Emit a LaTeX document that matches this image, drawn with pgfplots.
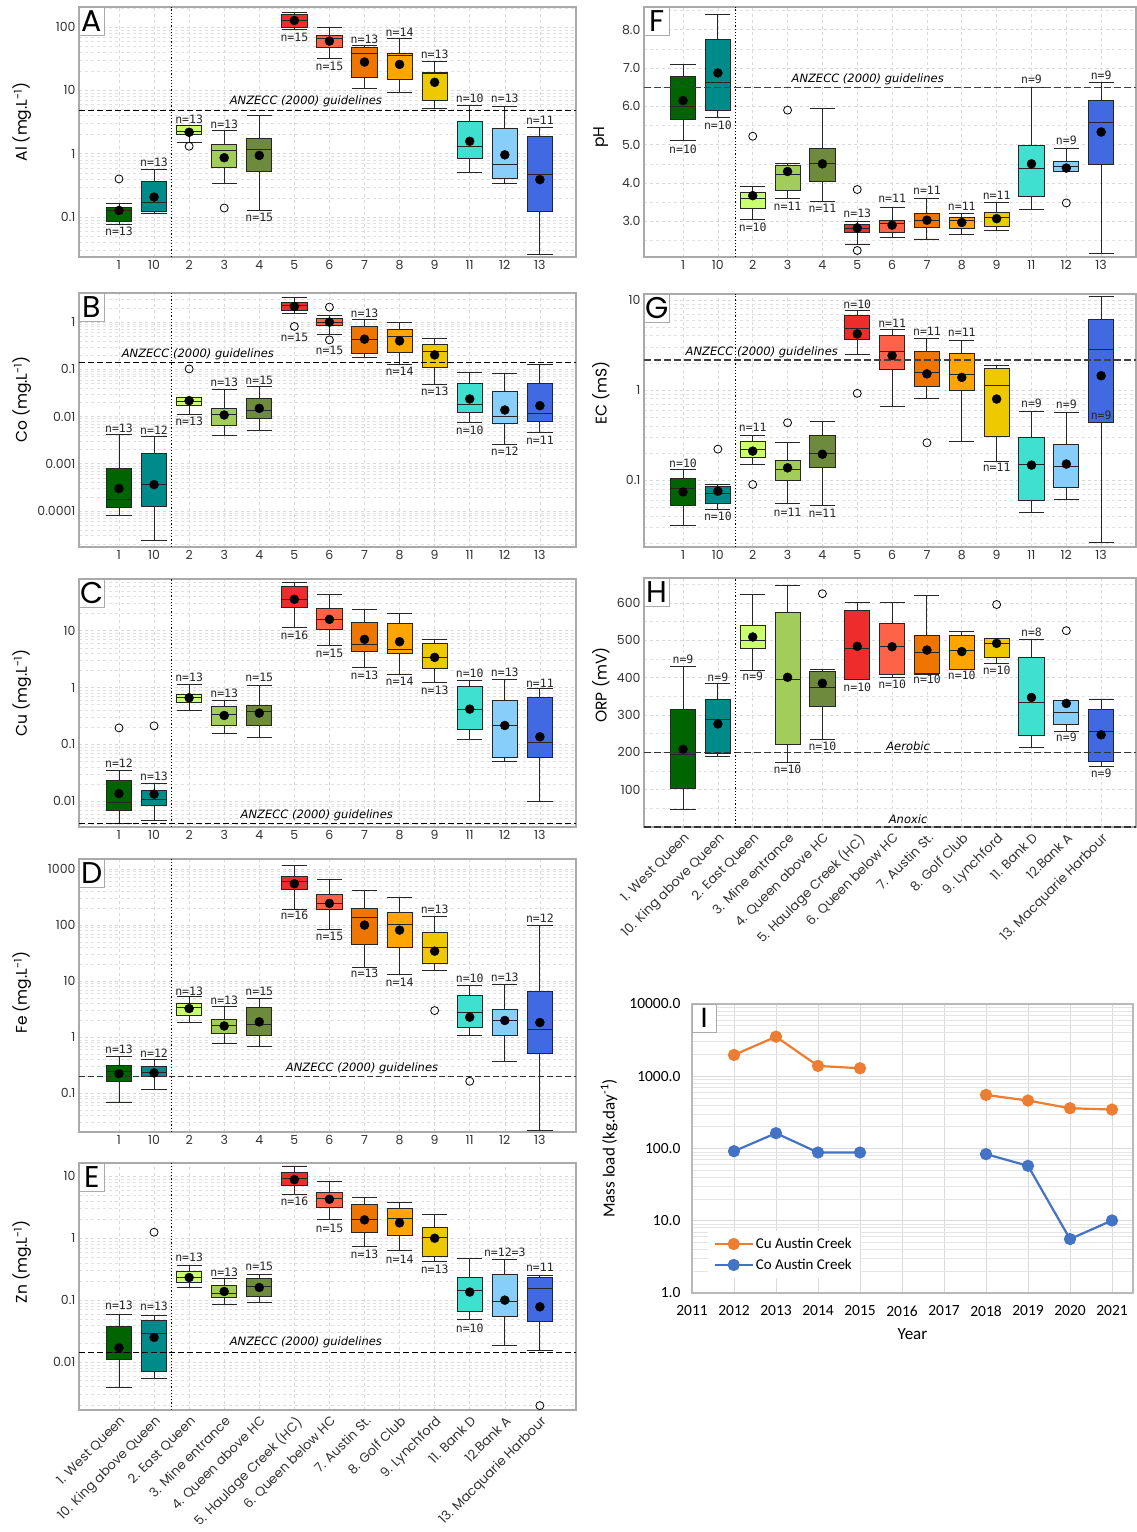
\documentclass[border=0pt]{standalone}
\usepackage{pgfplots}
\pgfplotsset{compat=1.18}
\usepgfplotslibrary{statistics}
\usepackage{fontspec}
\setmainfont{Poppins}
\newfontfamily\monof{DejaVu Sans Mono}
\newfontfamily\djv{DejaVu Sans}
\newfontfamily\calib{Carlito}

\definecolor{c1}{HTML}{006400}
\definecolor{c10}{HTML}{008B8B}
\definecolor{c2}{HTML}{CAFF70}
\definecolor{c3}{HTML}{A2CD5A}
\definecolor{c4}{HTML}{6E8B3D}
\definecolor{c5}{HTML}{EE2C2C}
\definecolor{c6}{HTML}{FF6347}
\definecolor{c7}{HTML}{EE7600}
\definecolor{c8}{HTML}{FFA500}
\definecolor{c9}{HTML}{EEC900}
\definecolor{c11}{HTML}{40E0D0}
\definecolor{c12}{HTML}{87CEFA}
\definecolor{c13}{HTML}{4169E1}
\definecolor{gridc}{HTML}{D9D9D9}
\definecolor{axc}{HTML}{AAAAAA}
\definecolor{cuC}{HTML}{ED7D31}
\definecolor{coC}{HTML}{4472C4}

\newcommand{\nfont}{\monof\fontsize{11.5}{12}\selectfont}
\newcommand{\gfont}{\djv\itshape\fontsize{11.5}{13}\selectfont}
% pos, lower whisker, lower quartile, median, upper quartile, upper whisker, colour, outliers
\newcommand{\bxp}[8]{\addplot[boxplot prepared={draw position=#1, lower whisker=#2, lower quartile=#3, median=#4, upper quartile=#5, upper whisker=#6}, fill=#7, draw=black!85, line width=0.9pt, mark=o, mark size=4pt, mark options={draw=black, fill=white, line width=0.8pt, solid}] coordinates {#8};}
\newcommand{\nlab}[3]{\node[font=\nfont, text=black!85] at (axis cs:#1,#2) {n=#3};}
\newcommand{\plab}[1]{\node[draw=axc, fill=white, inner sep=0pt, minimum width=25pt, minimum height=28pt, anchor=north west, font=\fontsize{30}{30}\selectfont] at (rel axis cs:0,1) {#1};}

\pgfplotsset{
  bpanel/.style={
    scale only axis, clip=false,
    xtick={0,...,12},
    major tick length=0pt, minor tick length=0pt,
    grid=both,
    major grid style={draw=gridc, dashed, line width=0.6pt},
    minor grid style={draw=gridc!80, dashed, line width=0.5pt},
    axis line style={draw=axc, line width=1.2pt},
    tick label style={font=\fontsize{12.5}{14}\selectfont, text=black!80},
    ylabel style={font=\fontsize{15.5}{17}\selectfont, anchor=center},
    boxplot/draw direction=y,
    boxplot/box extend=0.72,
    boxplot/whisker extend=0.72,
  },
  leftp/.style={bpanel, xmin=-1.14, xmax=13.03, width=497pt},
  rightp/.style={bpanel, xmin=-1.12, xmax=13.0, width=492pt},
  ylpL/.style={ylabel style={at={(axis description cs:-0.115,#1)}}},
  ylpR/.style={ylabel style={at={(axis description cs:-0.088,#1)}}},
  numlab/.style={xticklabels={1,10,2,3,4,5,6,7,8,9,11,12,13}},
  namelab/.style={xticklabels={1. West Queen, 10. King above Queen, 2. East Queen, 3. Mine entrance, 4. Queen above HC, 5. Haulage Creek (HC), 6. Queen below HC, 7. Austin St., 8. Golf Club, 9. Lynchford, 11. Bank D, 12.Bank A, 13. Macquarie Harbour},
    xticklabel style={rotate=45, anchor=north east, font=\fontsize{13}{15}\selectfont}},
}

\begin{document}
\begin{tikzpicture}
\useasboundingbox (0pt,0pt) rectangle (1137pt,-1532pt);

%%%%%%%%%%%%%%%% A: Al
\begin{axis}[leftp, numlab, ylpL=0.54, at={(79pt,-7pt)}, anchor=north west, height=250pt,
  ymode=log, ymin=0.0234, ymax=207,
  ytick={0.1,1,10,100}, yticklabels={0.1,1,10,100},
  minor ytick={0.03,0.04,0.05,0.06,0.07,0.08,0.09,0.2,0.3,0.4,0.5,0.6,0.7,0.8,0.9,2,3,4,5,6,7,8,9,20,30,40,50,60,70,80,90,200},
  ylabel={Al (mg.L\textsuperscript{-1})}]
\bxp{0}{0.077}{0.0855}{0.127}{0.144}{0.163}{c1}{(0,0.40)}
\bxp{1}{0.116}{0.123}{0.168}{0.37}{0.566}{c10}{}
\bxp{2}{1.49}{2.0}{2.25}{2.75}{2.80}{c2}{(2,1.31)}
\bxp{3}{0.344}{0.616}{1.13}{1.39}{2.33}{c3}{(3,0.139)}
\bxp{4}{0.127}{0.53}{1.17}{1.73}{4.03}{c4}{}
\bxp{5}{90.8}{100}{127}{157}{172}{c5}{}
\bxp{6}{31.6}{47.2}{65.4}{73.9}{97.6}{c6}{}
\bxp{7}{10.6}{16.2}{38.8}{47.2}{51.4}{c7}{}
\bxp{8}{9.2}{14.7}{35.7}{37.9}{65.4}{c8}{}
\bxp{9}{5.26}{6.95}{18.4}{19.0}{28.1}{c9}{}
\bxp{10}{0.51}{0.83}{1.31}{3.28}{5.8}{c11}{}
\bxp{11}{0.34}{0.40}{0.68}{2.48}{5.6}{c12}{}
\bxp{12}{0.0254}{0.123}{0.47}{1.90}{2.64}{c13}{}
\addplot[only marks, mark=*, mark size=4.5pt, black] coordinates {(0,0.127) (1,0.207) (2,2.18) (3,0.865) (4,0.94) (5,127) (6,60) (7,28) (8,25.7) (9,13.4) (10,1.57) (11,0.96) (12,0.39)};
\addplot[black, line width=1.1pt, dash pattern=on 6pt off 3pt] coordinates {(-1.14,4.83) (13.03,4.83)};
\addplot[black, line width=1.2pt, dotted] coordinates {(1.5,0.0234) (1.5,207)};
\node[font=\gfont] at (axis cs:5.33,6.7) {ANZECC (2000) guidelines};
\nlab{0}{0.0601}{13}\nlab{1}{0.721}{13}\nlab{2}{3.48}{13}\nlab{3}{2.90}{13}\nlab{4}{0.0977}{15}
\nlab{5}{68.7}{15}\nlab{6}{23.9}{15}\nlab{7}{64.7}{13}\nlab{8}{81.5}{14}\nlab{9}{36.6}{13}
\nlab{10}{7.48}{10}\nlab{11}{7.48}{13}\nlab{12}{3.32}{11}
\plab{A}
\end{axis}

%%%%%%%%%%%%%%%% B: Co
\begin{axis}[leftp, numlab, ylpL=0.58, at={(79pt,-293pt)}, anchor=north west, height=254pt,
  ymode=log, ymin=1.73e-5, ymax=4.13,
  ytick={0.0001,0.001,0.01,0.1,1}, yticklabels={0.0001,0.001,0.01,0.1,1},
  minor ytick={2e-5,3e-5,4e-5,5e-5,6e-5,7e-5,8e-5,9e-5,2e-4,3e-4,4e-4,5e-4,6e-4,7e-4,8e-4,9e-4,0.002,0.003,0.004,0.005,0.006,0.007,0.008,0.009,0.02,0.03,0.04,0.05,0.06,0.07,0.08,0.09,0.2,0.3,0.4,0.5,0.6,0.7,0.8,0.9,2,3,4},
  ylabel={Co (mg.L\textsuperscript{-1})}]
\bxp{0}{8.1e-5}{0.000118}{0.000175}{0.000794}{0.00426}{c1}{}
\bxp{1}{2.4e-5}{0.000126}{0.000363}{0.00166}{0.00374}{c10}{}
\bxp{2}{0.0111}{0.017}{0.0214}{0.0252}{0.026}{c2}{(2,0.102)}
\bxp{3}{0.00405}{0.0066}{0.0111}{0.0149}{0.0378}{c3}{}
\bxp{4}{0.00518}{0.00916}{0.0135}{0.0243}{0.0424}{c4}{}
\bxp{5}{1.55}{1.80}{2.26}{2.66}{3.34}{c5}{(5,0.81)}
\bxp{6}{0.538}{0.836}{1.0}{1.18}{1.39}{c6}{(6,2.08) (6,0.42)}
\bxp{7}{0.178}{0.22}{0.435}{0.81}{1.12}{c7}{}
\bxp{8}{0.128}{0.231}{0.489}{0.71}{1.0}{c8}{}
\bxp{9}{0.0483}{0.109}{0.238}{0.341}{0.457}{c9}{}
\bxp{10}{0.00741}{0.01228}{0.01845}{0.0507}{0.0868}{c11}{}
\bxp{11}{0.00261}{0.00717}{0.01026}{0.0337}{0.0813}{c12}{}
\bxp{12}{0.00462}{0.00804}{0.0117}{0.0491}{0.124}{c13}{}
\addplot[only marks, mark=*, mark size=4.5pt, black] coordinates {(0,0.000299) (1,0.000363) (2,0.0217) (3,0.0108) (4,0.0149) (5,2.15) (6,1.0) (7,0.435) (8,0.40) (9,0.202) (10,0.0236) (11,0.01377) (12,0.017)};
\addplot[black, line width=1.1pt, dash pattern=on 6pt off 3pt] coordinates {(-1.14,0.1415) (13.03,0.1415)};
\addplot[black, line width=1.2pt, dotted] coordinates {(1.5,1.73e-5) (1.5,4.13)};
\node[font=\gfont] at (axis cs:2.25,0.209) {ANZECC (2000) guidelines};
\nlab{0}{0.00562}{13}\nlab{1}{0.00518}{12}\nlab{2}{0.00778}{13}\nlab{3}{0.0524}{13}\nlab{4}{0.0577}{15}
\nlab{5}{0.481}{15}\nlab{6}{0.246}{15}\nlab{7}{1.50}{13}\nlab{8}{0.0897}{14}\nlab{9}{0.0337}{13}
\nlab{10}{0.00518}{10}\nlab{11}{0.00188}{12}\nlab{12}{0.00318}{11}
\plab{B}
\end{axis}

%%%%%%%%%%%%%%%% C: Cu
\begin{axis}[leftp, numlab, ylpL=0.54, at={(79pt,-579pt)}, anchor=north west, height=248pt,
  ymode=log, ymin=0.00352, ymax=81,
  ytick={0.01,0.1,1,10}, yticklabels={0.01,0.1,1,10},
  minor ytick={0.004,0.005,0.006,0.007,0.008,0.009,0.02,0.03,0.04,0.05,0.06,0.07,0.08,0.09,0.2,0.3,0.4,0.5,0.6,0.7,0.8,0.9,2,3,4,5,6,7,8,9,20,30,40,50,60,70,80},
  ylabel={Cu (mg.L\textsuperscript{-1})}]
\bxp{0}{0.00403}{0.00675}{0.00933}{0.0228}{0.0351}{c1}{(0,0.195)}
\bxp{1}{0.0045}{0.0085}{0.0107}{0.0156}{0.0205}{c10}{(1,0.212)}
\bxp{2}{0.39}{0.553}{0.66}{0.756}{1.135}{c2}{}
\bxp{3}{0.155}{0.212}{0.336}{0.465}{0.593}{c3}{}
\bxp{4}{0.130}{0.212}{0.385}{0.477}{1.09}{c4}{}
\bxp{5}{11.3}{25.8}{35.6}{59.6}{71}{c5}{}
\bxp{6}{5.45}{10.3}{16.05}{24.7}{42.5}{c6}{}
\bxp{7}{2.26}{4.27}{5.82}{14.0}{23.8}{c7}{}
\bxp{8}{1.73}{3.99}{4.75}{13.5}{19.7}{c8}{}
\bxp{9}{1.21}{2.17}{3.39}{5.98}{7.03}{c9}{}
\bxp{10}{0.124}{0.183}{0.417}{1.06}{1.33}{c11}{}
\bxp{11}{0.0499}{0.0595}{0.215}{0.585}{1.41}{c12}{}
\bxp{12}{0.01}{0.058}{0.106}{0.67}{0.964}{c13}{}
\addplot[only marks, mark=*, mark size=4.5pt, black] coordinates {(0,0.0136) (1,0.0133) (2,0.66) (3,0.322) (4,0.355) (5,35.6) (6,15.8) (7,7.03) (8,6.4) (9,3.39) (10,0.417) (11,0.215) (12,0.136)};
\addplot[black, line width=1.1pt, dash pattern=on 6pt off 3pt] coordinates {(-1.14,0.004) (13.03,0.004)};
\addplot[black, line width=1.2pt, dotted] coordinates {(1.5,0.00352) (1.5,81)};
\node[font=\gfont] at (axis cs:5.64,0.00566) {ANZECC (2000) guidelines};
\nlab{0}{0.046}{12}\nlab{1}{0.0275}{13}\nlab{2}{1.486}{13}\nlab{3}{0.787}{13}\nlab{4}{1.486}{15}
\nlab{5}{8.39}{16}\nlab{6}{3.99}{15}\nlab{7}{1.66}{13}\nlab{8}{1.265}{14}\nlab{9}{0.902}{13}
\nlab{10}{1.77}{10}\nlab{11}{1.84}{13}\nlab{12}{1.21}{11}
\plab{C}
\end{axis}

%%%%%%%%%%%%%%%% D: Fe
\begin{axis}[leftp, numlab, ylpL=0.51, at={(79pt,-859pt)}, anchor=north west, height=273pt,
  ymode=log, ymin=0.0204, ymax=1510,
  ytick={0.1,1,10,100,1000}, yticklabels={0.1,1,10,100,1000},
  minor ytick={0.03,0.04,0.05,0.06,0.07,0.08,0.09,0.2,0.3,0.4,0.5,0.6,0.7,0.8,0.9,2,3,4,5,6,7,8,9,20,30,40,50,60,70,80,90,200,300,400,500,600,700,800,900},
  ylabel={Fe (mg.L\textsuperscript{-1})}]
\bxp{0}{0.070}{0.164}{0.247}{0.308}{0.452}{c1}{}
\bxp{1}{0.118}{0.196}{0.234}{0.299}{0.399}{c10}{}
\bxp{2}{1.83}{2.47}{3.43}{3.99}{5.25}{c2}{}
\bxp{3}{0.76}{1.16}{1.61}{2.10}{3.53}{c3}{}
\bxp{4}{0.68}{1.09}{1.68}{3.39}{4.9}{c4}{}
\bxp{5}{193}{434}{611}{750}{1180}{c5}{}
\bxp{6}{82.6}{193}{244}{353}{662}{c6}{}
\bxp{7}{17.3}{45.2}{137}{199}{416}{c7}{}
\bxp{8}{13.2}{39.9}{101}{166}{316}{c8}{}
\bxp{9}{15.5}{20.6}{39.9}{73}{143}{c9}{(9,2.99)}
\bxp{10}{1.09}{1.47}{2.75}{5.47}{8.49}{c11}{(10,0.164)}
\bxp{11}{0.367}{1.06}{1.99}{3.12}{8.7}{c12}{}
\bxp{12}{0.0221}{0.51}{1.35}{6.45}{100}{c13}{}
\addplot[only marks, mark=*, mark size=4.5pt, black] coordinates {(0,0.224) (1,0.231) (2,3.25) (3,1.59) (4,1.88) (5,547) (6,244) (7,100) (8,81.5) (9,34.3) (10,2.28) (11,1.99) (12,1.83)};
\addplot[black!80, line width=1.1pt, dash pattern=on 6pt off 3pt] coordinates {(-1.14,0.196) (13.03,0.196)};
\addplot[black, line width=1.2pt, dotted] coordinates {(1.5,0.0204) (1.5,1510)};
\node[font=\gfont] at (axis cs:6.93,0.275) {ANZECC (2000) guidelines};
\nlab{0}{0.61}{13}\nlab{1}{0.51}{12}\nlab{2}{6.71}{13}\nlab{3}{4.52}{13}\nlab{4}{6.45}{15}
\nlab{5}{151}{16}\nlab{6}{63.7}{15}\nlab{7}{13.7}{13}\nlab{8}{9.6}{14}\nlab{9}{188}{13}
\nlab{10}{11.3}{10}\nlab{11}{11.6}{13}\nlab{12}{133}{12}
\plab{D}
\end{axis}

%%%%%%%%%%%%%%%% E: Zn
\begin{axis}[leftp, namelab, ylpL=0.60, at={(79pt,-1163pt)}, anchor=north west, height=247pt,
  ymode=log, ymin=0.00168, ymax=16.4,
  ytick={0.01,0.1,1,10}, yticklabels={0.01,0.1,1,10},
  minor ytick={0.002,0.003,0.004,0.005,0.006,0.007,0.008,0.009,0.02,0.03,0.04,0.05,0.06,0.07,0.08,0.09,0.2,0.3,0.4,0.5,0.6,0.7,0.8,0.9,2,3,4,5,6,7,8,9},
  ylabel={Zn (mg.L\textsuperscript{-1})}]
\bxp{0}{0.0039}{0.0112}{0.0143}{0.0372}{0.0587}{c1}{}
\bxp{1}{0.00552}{0.00698}{0.029}{0.0475}{0.0559}{c10}{(1,1.25)}
\bxp{2}{0.16}{0.193}{0.232}{0.286}{0.358}{c2}{}
\bxp{3}{0.0861}{0.110}{0.128}{0.175}{0.221}{c3}{}
\bxp{4}{0.0906}{0.113}{0.168}{0.224}{0.256}{c4}{}
\bxp{5}{5.13}{7.17}{9.4}{11.5}{14.7}{c5}{}
\bxp{6}{2.0}{3.13}{4.36}{5.59}{8.4}{c6}{}
\bxp{7}{0.724}{1.22}{2.0}{3.49}{4.53}{c7}{}
\bxp{8}{0.64}{1.09}{2.07}{3.01}{3.76}{c8}{}
\bxp{9}{0.415}{0.5}{1.03}{1.49}{2.41}{c9}{}
\bxp{10}{0.0488}{0.0657}{0.142}{0.232}{0.465}{c11}{}
\bxp{11}{0.0188}{0.0538}{0.094}{0.256}{0.453}{c12}{}
\bxp{12}{0.0152}{0.0448}{0.154}{0.229}{0.253}{c13}{(12,0.00198)}
\addplot[only marks, mark=*, mark size=4.5pt, black] coordinates {(0,0.017) (1,0.025) (2,0.232) (3,0.138) (4,0.16) (5,8.83) (6,4.26) (7,1.98) (8,1.77) (9,1.0) (10,0.135) (11,0.1) (12,0.078)};
\addplot[black, line width=1.1pt, dash pattern=on 6pt off 3pt] coordinates {(-1.14,0.01416) (13.03,0.01416)};
\addplot[black, line width=1.2pt, dotted] coordinates {(1.5,0.00168) (1.5,16.4)};
\node[font=\gfont] at (axis cs:5.33,0.0205) {ANZECC (2000) guidelines};
\nlab{0}{0.083}{13}\nlab{1}{0.08}{13}\nlab{2}{0.488}{13}\nlab{3}{0.286}{13}\nlab{4}{0.349}{15}
\nlab{5}{3.96}{16}\nlab{6}{1.43}{15}\nlab{7}{0.546}{13}\nlab{8}{0.458}{14}\nlab{9}{0.316}{13}
\nlab{10}{0.0349}{10}\nlab{11}{0.587}{12=3}\nlab{12}{0.345}{11}
\plab{E}
\end{axis}

%%%%%%%%%%%%%%%% F: pH
\begin{axis}[rightp, numlab, ylpR=0.48, at={(644pt,-7pt)}, anchor=north west, height=250pt,
  ymin=2.07, ymax=8.59,
  ytick={3,4,5,6,7,8}, yticklabels={3.0,4.0,5.0,6.0,7.0,8.0},
  minor ytick={2.5,3.5,4.5,5.5,6.5,7.5,8.5},
  ylabel={pH}]
\bxp{0}{5.10}{5.65}{6.0}{6.78}{7.10}{c1}{}
\bxp{1}{5.70}{5.89}{6.61}{7.74}{8.39}{c10}{}
\bxp{2}{3.04}{3.33}{3.61}{3.76}{3.90}{c2}{(2,5.22)}
\bxp{3}{3.59}{3.80}{4.22}{4.45}{4.50}{c3}{(3,5.90)}
\bxp{4}{3.52}{4.04}{4.50}{4.90}{5.94}{c4}{}
\bxp{5}{2.41}{2.70}{2.81}{2.93}{3.0}{c5}{(5,3.83) (5,2.24)}
\bxp{6}{2.57}{2.70}{2.94}{3.03}{3.37}{c6}{}
\bxp{7}{2.54}{2.84}{3.02}{3.20}{3.60}{c7}{}
\bxp{8}{2.65}{2.82}{3.02}{3.11}{3.20}{c8}{}
\bxp{9}{2.76}{2.87}{3.09}{3.23}{3.50}{c9}{}
\bxp{10}{3.32}{3.65}{4.37}{4.99}{6.50}{c11}{}
\bxp{11}{4.30}{4.30}{4.43}{4.57}{4.90}{c12}{(11,3.48)}
\bxp{12}{2.15}{4.48}{5.57}{6.16}{6.61}{c13}{}
\addplot[only marks, mark=*, mark size=4.5pt, black] coordinates {(0,6.15) (1,6.87) (2,3.67) (3,4.30) (4,4.50) (5,2.83) (6,2.90) (7,3.03) (8,2.97) (9,3.07) (10,4.50) (11,4.39) (12,5.33)};
\addplot[black!75, line width=1.3pt, dash pattern=on 7pt off 3pt] coordinates {(-1.12,6.49) (13.0,6.49)};
\addplot[black, line width=1.2pt, dotted] coordinates {(1.5,2.07) (1.5,8.59)};
\node[font=\gfont] at (axis cs:5.3,6.71) {ANZECC (2000) guidelines};
\nlab{0}{4.89}{10}\nlab{1}{5.51}{10}\nlab{2}{2.85}{10}\nlab{3}{3.39}{11}\nlab{4}{3.35}{11}
\nlab{5}{3.20}{13}\nlab{6}{3.60}{11}\nlab{7}{3.81}{11}\nlab{8}{3.39}{11}\nlab{9}{3.68}{11}
\nlab{10}{6.70}{9}\nlab{11}{5.11}{9}\nlab{12}{6.80}{9}
\plab{F}
\end{axis}

%%%%%%%%%%%%%%%% G: EC
\begin{axis}[rightp, numlab, ylpR=0.61, at={(644pt,-294pt)}, anchor=north west, height=253pt,
  ymode=log, ymin=0.01816, ymax=11.6,
  ytick={0.1,1,10}, yticklabels={0.1,1,10},
  minor ytick={0.02,0.03,0.04,0.05,0.06,0.07,0.08,0.09,0.2,0.3,0.4,0.5,0.6,0.7,0.8,0.9,2,3,4,5,6,7,8,9},
  ylabel={EC (mS)}]
\bxp{0}{0.0316}{0.0527}{0.0808}{0.1045}{0.131}{c1}{}
\bxp{1}{0.0472}{0.0551}{0.0711}{0.0858}{0.0903}{c10}{(1,0.221)}
\bxp{2}{0.151}{0.179}{0.221}{0.267}{0.311}{c2}{(2,0.0896)}
\bxp{3}{0.0546}{0.0984}{0.131}{0.164}{0.262}{c3}{(3,0.434)}
\bxp{4}{0.0527}{0.138}{0.198}{0.316}{0.445}{c4}{}
\bxp{5}{2.45}{3.66}{4.84}{6.70}{7.55}{c5}{(5,0.918)}
\bxp{6}{0.664}{1.70}{2.67}{3.98}{4.72}{c6}{}
\bxp{7}{0.807}{1.09}{1.57}{2.67}{3.75}{c7}{(7,0.26)}
\bxp{8}{0.271}{1.0}{1.49}{2.54}{3.53}{c8}{}
\bxp{9}{0.163}{0.308}{1.11}{1.74}{1.86}{c9}{}
\bxp{10}{0.0434}{0.06}{0.149}{0.295}{0.574}{c11}{}
\bxp{11}{0.061}{0.083}{0.141}{0.249}{0.565}{c12}{}
\bxp{12}{0.0203}{0.437}{2.83}{6.1}{10.9}{c13}{}
\addplot[only marks, mark=*, mark size=4.5pt, black] coordinates {(0,0.0741) (1,0.0755) (2,0.21) (3,0.137) (4,0.194) (5,4.19) (6,2.41) (7,1.51) (8,1.38) (9,0.794) (10,0.147) (11,0.151) (12,1.44)};
\addplot[black!75, line width=1.3pt, dash pattern=on 7pt off 3pt] coordinates {(-1.12,2.15) (13.0,2.15)};
\addplot[black, line width=1.2pt, dotted] coordinates {(1.5,0.01816) (1.5,11.6)};
\node[font=\gfont] at (axis cs:2.26,2.6) {ANZECC (2000) guidelines};
\nlab{0}{0.153}{10}\nlab{1}{0.0398}{10}\nlab{2}{0.381}{11}\nlab{3}{0.0445}{11}\nlab{4}{0.0426}{11}
\nlab{5}{8.95}{10}\nlab{6}{5.51}{11}\nlab{7}{4.53}{11}\nlab{8}{4.34}{11}\nlab{9}{0.138}{11}
\nlab{10}{0.711}{9}\nlab{11}{0.699}{9}\nlab{12}{0.519}{9}
\plab{G}
\end{axis}

%%%%%%%%%%%%%%%% H: ORP
\begin{axis}[rightp, namelab, ylpR=0.57, at={(644pt,-578pt)}, anchor=north west, height=249pt,
  ymin=0, ymax=667,
  ytick={100,200,300,400,500,600}, yticklabels={100,200,300,400,500,600},
  minor ytick={50,150,250,350,450,550,650},
  ylabel={ORP (mV)}]
\bxp{0}{48}{102}{194}{315}{429}{c1}{}
\bxp{1}{189}{196}{287}{342}{384}{c10}{}
\bxp{2}{420}{478}{500}{539}{622}{c2}{}
\bxp{3}{173}{221}{396}{575}{648}{c3}{}
\bxp{4}{234}{324}{374}{416}{422}{c4}{(4,625)}
\bxp{5}{396}{396}{479}{579}{602}{c5}{}
\bxp{6}{400}{409}{483}{544}{602}{c6}{}
\bxp{7}{410}{411}{468}{514}{620}{c7}{}
\bxp{8}{423}{423}{472}{513}{524}{c8}{}
\bxp{9}{437}{453}{492}{504}{506}{c9}{(9,596)}
\bxp{10}{212}{245}{333}{455}{503}{c11}{}
\bxp{11}{257}{275}{306}{340}{340}{c12}{(11,526)}
\bxp{12}{163}{176}{255}{315}{343}{c13}{}
\addplot[only marks, mark=*, mark size=4.5pt, black] coordinates {(0,208) (1,276) (2,509) (3,401) (4,385) (5,484) (6,483) (7,474) (8,470) (9,492) (10,347) (11,331) (12,247)};
\addplot[black!80, line width=1.2pt, dash pattern=on 7pt off 3pt] coordinates {(-1.12,200) (13.0,200)};
\addplot[black!80, line width=1.2pt, dash pattern=on 7pt off 3pt] coordinates {(-1.12,0) (13.0,0)};
\addplot[black, line width=1.2pt, dotted] coordinates {(1.5,0) (1.5,667)};
\node[font=\gfont] at (axis cs:6.46,216) {Aerobic};
\node[font=\gfont] at (axis cs:6.46,21) {Anoxic};
\nlab{0}{449}{9}\nlab{1}{401}{9}\nlab{2}{403}{9}\nlab{3}{154}{10}\nlab{4}{216}{10}
\nlab{5}{375}{10}\nlab{6}{382}{10}\nlab{7}{395}{10}\nlab{8}{407}{10}\nlab{9}{421}{10}
\nlab{10}{521}{8}\nlab{11}{241}{9}\nlab{12}{145}{9}
\plab{H}
\end{axis}

%%%%%%%%%%%%%%%% I: mass load
\begin{axis}[scale only axis, at={(692pt,-1004pt)}, anchor=north west, width=441pt, height=289pt,
  ymode=log, ymin=1, ymax=10000, xmin=2011, xmax=2021.5,
  xtick={2011,2012,2013,2014,2015,2016,2017,2018,2019,2020,2021},
  xticklabels={2011,2012,2013,2014,2015,2016,2017,2018,2019,2020,2021},
  ytick={1,10,100,1000,10000}, yticklabels={1.0,10.0,100.0,1000.0,10000.0},
  minor ytick={2,3,4,5,6,7,8,9,20,30,40,50,60,70,80,90,200,300,400,500,600,700,800,900,2000,3000,4000,5000,6000,7000,8000,9000},
  major tick length=0pt, minor tick length=0pt,
  grid=both, major grid style={draw=gray!28, line width=0.7pt}, minor grid style={draw=gray!20, line width=0.6pt},
  axis line style={draw=gray!55, line width=1.1pt},
  tick label style={font=\calib\fontsize{15.5}{17}\selectfont, text=black},
  xticklabel style={yshift=-9pt}, yticklabel style={xshift=-8pt},
  ylabel={Mass load (kg.day\textsuperscript{-1})}, xlabel={Year},
  ylabel style={font=\calib\fontsize{17}{19}\selectfont, at={(axis description cs:-0.188,0.5)}, anchor=center},
  xlabel style={font=\calib\fontsize{17}{19}\selectfont, at={(axis description cs:0.5,0)}, anchor=center, yshift=-41pt},
  legend style={at={(rel axis cs:0.035,0.215)}, anchor=north west, draw=none, fill=white, font=\calib\fontsize{15}{17}\selectfont, row sep=5pt, inner xsep=6pt, inner ysep=5pt},
  legend cell align=left,
  legend image code/.code={\draw[mark repeat=2, mark phase=2, #1] plot coordinates {(0pt,0pt) (19pt,0pt) (38pt,0pt)};},
  ]
\addplot[cuC, line width=2.2pt, mark=*, mark size=5pt] coordinates {(2012,1972) (2013,3530) (2014,1390) (2015,1291)};
\addlegendentry{Cu Austin Creek}
\addplot[coC, line width=2.2pt, mark=*, mark size=5pt] coordinates {(2012,91.8) (2013,163) (2014,88.1) (2015,88.1)};
\addlegendentry{Co Austin Creek}
\addplot[cuC, line width=2.2pt, mark=*, mark size=5pt, forget plot] coordinates {(2018,552) (2019,461) (2020,361) (2021,346)};
\addplot[coC, line width=2.2pt, mark=*, mark size=5pt, forget plot] coordinates {(2018,83.6) (2019,57.6) (2020,5.58) (2021,10.1)};
\node[draw=axc, fill=white, inner sep=0pt, minimum width=24pt, minimum height=28pt, anchor=north west, font=\calib\fontsize{30}{30}\selectfont] at (rel axis cs:0,1) {I};
\end{axis}
\end{tikzpicture}
\end{document}
